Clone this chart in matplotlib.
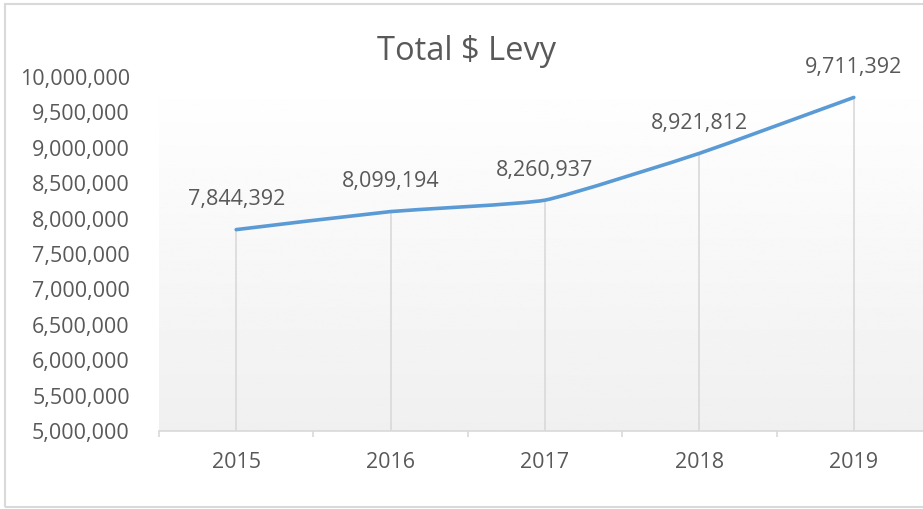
import numpy as np
import matplotlib.pyplot as plt
from matplotlib.patches import Rectangle, PathPatch
from matplotlib.path import Path
from matplotlib.ticker import FuncFormatter, MultipleLocator

#
#   Total $ Levy line chart, Excel style (lightly smoothed line)
#

years = ["2015", "2016", "2017", "2018", "2019"]
levy = [7844392, 8099194, 8260937, 8921812, 9711392]

text_color = "#595959"
line_color = "#5B9BD5"
grid_color = "#d9d9d9"
fsize = 15.5
smooth = 1 / 14  # how far the bezier handles reach

plt.rcParams["font.family"] = ["Open Sans", "DejaVu Sans"]

W, H = 923, 509
fig = plt.figure(figsize=(W / 100, H / 100), dpi=100)

# plot area runs off the right edge like the cropped screenshot
left, right, top, bottom = 159, 931, 77, 431
ax = fig.add_axes([left / W, (H - bottom) / H, (right - left) / W, (bottom - top) / H])

x = np.arange(len(years))
ax.set_xlim(-0.5, len(years) - 0.5)
ax.set_ylim(5000000, 10000000)

# vertical gradient for the plot area, white at top to light grey at bottom
grad = np.linspace(1.0, 0.94, 256).reshape(-1, 1)
ax.imshow(grad, cmap="gray", vmin=0, vmax=1, aspect="auto",
          extent=[-0.5, len(years) - 0.5, 5000000, 10000000], zorder=0)

# drop lines from each point to the axis
ax.vlines(x, 5000000, levy, color=grid_color, linewidth=1.2, zorder=1)

# smoothed line: bezier segments, control points from neighbours
pts = np.column_stack([x, levy]).astype(float)
ext = np.vstack([pts[0], pts, pts[-1]])
verts = [tuple(pts[0])]
codes = [Path.MOVETO]
for i in range(len(pts) - 1):
    p0, p1, p2, p3 = ext[i], ext[i + 1], ext[i + 2], ext[i + 3]
    c1 = p1 + (p2 - p0) * smooth
    c2 = p2 - (p3 - p1) * smooth
    verts += [tuple(c1), tuple(c2), tuple(p2)]
    codes += [Path.CURVE4] * 3
ax.add_patch(PathPatch(Path(verts, codes), facecolor="none", edgecolor=line_color,
                       linewidth=2.6, capstyle="round", joinstyle="round", zorder=3))

for xi, v in zip(x, levy):
    ax.annotate(f"{v:,}", (xi, v), xytext=(0, 21.5), textcoords="offset points",
                ha="center", va="center", fontsize=fsize, color=text_color)

# axes styling
for s in ["top", "right", "left"]:
    ax.spines[s].set_visible(False)
ax.spines["bottom"].set_color(grid_color)
ax.spines["bottom"].set_linewidth(1.2)

ax.yaxis.set_major_locator(MultipleLocator(500000))
ax.yaxis.set_major_formatter(FuncFormatter(lambda v, p: f"{int(v):,}"))
ax.tick_params(axis="y", length=0, pad=21, labelsize=fsize, labelcolor=text_color)

ax.set_xticks(x)
ax.set_xticklabels(years)
ax.set_xticks(np.arange(len(years) + 1) - 0.5, minor=True)
ax.tick_params(axis="x", which="major", length=0, pad=15, labelsize=fsize, labelcolor=text_color)
ax.tick_params(axis="x", which="minor", length=4, width=1.2, color=grid_color)

fig.text(467 / W, 1 - 51 / H, "Total $ Levy", ha="center", va="center",
         fontsize=23.5, color=text_color)

# chart border
fig.patches.append(Rectangle((5 / W, 2 / H), 1.2, (H - 6) / H, transform=fig.transFigure,
                             fill=False, edgecolor=grid_color, linewidth=1.5))

fig.savefig("out.png", dpi=100)
